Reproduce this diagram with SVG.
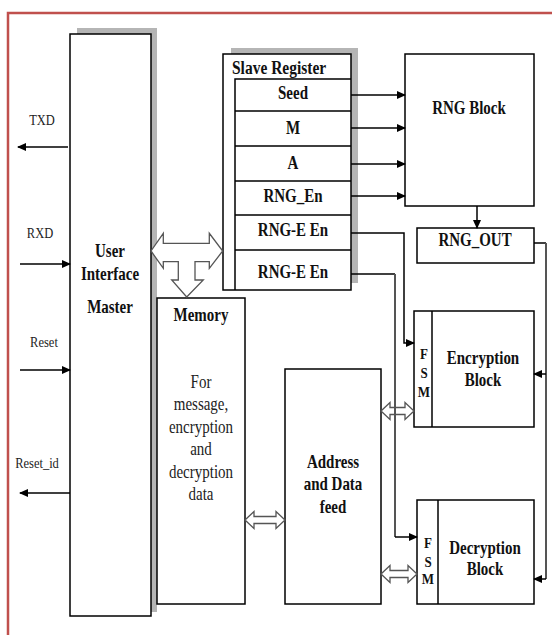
<svg xmlns="http://www.w3.org/2000/svg" width="552" height="635" viewBox="0 0 552 635">
<defs>
<marker id="ah" markerUnits="userSpaceOnUse" markerWidth="9" markerHeight="8" refX="8" refY="4" orient="auto">
<path d="M0,0 L9,4 L0,8 Z" fill="#000"/>
</marker>
</defs>
<style>
.box{fill:#fff;stroke:#000;stroke-width:1.5}
.sh{fill:#b5b5b5;stroke:none}
.ln{fill:none;stroke:#000;stroke-width:1.5}
.gl{fill:none;stroke:#555;stroke-width:2}
.ba{fill:#fff;stroke:#555;stroke-width:1.3;stroke-linejoin:miter}
.b{font-family:"Liberation Serif","Times New Roman",serif;font-weight:bold;font-size:15px;text-anchor:middle;fill:#111}
.r{font-family:"Liberation Serif","Times New Roman",serif;font-size:15px;text-anchor:middle;fill:#222}
.p{font-family:"Liberation Serif","Times New Roman",serif;font-size:12.5px;text-anchor:middle;fill:#222}
.f{font-family:"Liberation Serif","Times New Roman",serif;font-weight:bold;font-size:13px;text-anchor:middle;fill:#111}
</style>
<rect width="552" height="635" fill="#fff"/>
<rect x="8" y="13" width="560" height="640" fill="none" stroke="#c0504d" stroke-width="2.5"/>

<g id="user-interface-master">
<rect class="sh" x="77" y="28" width="80" height="584"/>
<rect class="box" x="70" y="34" width="81" height="582"/>
<text class="b" transform="translate(110,257) scale(1,1.2)">User</text>
<text class="b" transform="translate(110,280) scale(1,1.2)">Interface</text>
<text class="b" transform="translate(110,313) scale(1,1.2)">Master</text>
</g>

<g id="slave-register">
<rect class="sh" x="231" y="48" width="127" height="235"/>
<rect class="box" x="223" y="54" width="128" height="236"/>
<path class="ln" d="M235,290 V79 H351 M235,111 H351 M235,146 H351 M235,181 H351 M235,215 H351 M235,250 H351"/>
<text class="b" transform="translate(232,74) scale(1,1.2)" style="text-anchor:start;font-size:15.5px">Slave Register</text>
<text class="b" transform="translate(293,99) scale(1,1.2)">Seed</text>
<text class="b" transform="translate(293,134) scale(1,1.2)">M</text>
<text class="b" transform="translate(293,169) scale(1,1.2)">A</text>
<text class="b" transform="translate(293,202) scale(1,1.2)">RNG_En</text>
<text class="b" transform="translate(293,236) scale(1,1.2)">RNG-E En</text>
<text class="b" transform="translate(293,278) scale(1,1.2)">RNG-E En</text>
</g>

<g id="rng-block">
<rect class="box" x="405" y="54" width="129" height="152"/>
<text class="b" transform="translate(469,114) scale(1,1.2)">RNG Block</text>
</g>

<g id="rng-out">
<rect class="box" x="417" y="228" width="117" height="35"/>
<text class="b" transform="translate(475,246) scale(1,1.2)">RNG_OUT</text>
</g>

<g id="memory">
<rect class="box" x="157" y="298" width="88" height="306"/>
<text class="b" transform="translate(201,321) scale(1,1.2)">Memory</text>
<text class="r" transform="translate(201,388) scale(1,1.2)">For</text>
<text class="r" transform="translate(201,410) scale(1,1.2)">message,</text>
<text class="r" transform="translate(201,433) scale(1,1.2)">encryption</text>
<text class="r" transform="translate(201,455) scale(1,1.2)">and</text>
<text class="r" transform="translate(201,478) scale(1,1.2)">decryption</text>
<text class="r" transform="translate(201,500) scale(1,1.2)">data</text>
</g>

<g id="address-data-feed">
<rect class="box" x="285" y="369" width="96" height="235"/>
<text class="b" transform="translate(333,468) scale(1,1.2)">Address</text>
<text class="b" transform="translate(333,490) scale(1,1.2)">and Data</text>
<text class="b" transform="translate(333,513) scale(1,1.2)">feed</text>
</g>

<g id="encryption-block">
<rect class="box" x="414" y="311" width="120" height="116"/>
<path class="ln" d="M432,311 V427"/>
<text class="f" transform="translate(424,359) scale(1,1.2)">F</text>
<text class="f" transform="translate(424,378) scale(1,1.2)">S</text>
<text class="f" transform="translate(424,397) scale(1,1.2)">M</text>
<text class="b" transform="translate(483,364) scale(1,1.2)">Encryption</text>
<text class="b" transform="translate(483,386) scale(1,1.2)">Block</text>
</g>

<g id="decryption-block">
<rect class="box" x="417" y="500" width="117" height="104"/>
<path class="ln" d="M438,500 V604"/>
<text class="f" transform="translate(428,548) scale(1,1.2)">F</text>
<text class="f" transform="translate(428,567) scale(1,1.2)">S</text>
<text class="f" transform="translate(428,584) scale(1,1.2)">M</text>
<text class="b" transform="translate(485,554) scale(1,1.2)">Decryption</text>
<text class="b" transform="translate(485,575) scale(1,1.2)">Block</text>
</g>

<g id="pins">
<text class="p" transform="translate(42,125) scale(1,1.2)">TXD</text>
<text class="p" transform="translate(40,238) scale(1,1.2)">RXD</text>
<text class="p" transform="translate(44,347) scale(1,1.2)">Reset</text>
<text class="p" transform="translate(37,468) scale(1,1.2)">Reset_id</text>
</g>

<g id="connectors">
<path class="ba" d="M151,251 L163.3,233.3 L163.3,243.3 L209.3,243.3 L209.3,233.3 L222.7,251 L209.3,268.3 L209.3,261.7 L195,261.7 L195,280 L203.3,280 L186.7,297 L171.7,280 L178.3,280 L178.3,261.7 L163.3,261.7 L163.3,268.3 Z"/>
<path class="ba" d="M381,411 L390,402.5 L390,407.5 L405,407.5 L405,402.5 L414,411 L405,419.5 L405,414.5 L390,414.5 L390,419.5 Z"/>
<path class="ba" d="M381,574 L390,565.5 L390,570.5 L408,570.5 L408,565.5 L417,574 L408,582.5 L408,577.5 L390,577.5 L390,582.5 Z"/>
<path class="ba" d="M245,520 L254,511.5 L254,516.5 L276,516.5 L276,511.5 L285,520 L276,528.5 L276,523.5 L254,523.5 L254,528.5 Z"/>

<path class="ln" d="M68,147 H18" marker-end="url(#ah)"/>
<path class="ln" d="M20,264 H70" marker-end="url(#ah)"/>
<path class="ln" d="M20,370 H70" marker-end="url(#ah)"/>
<path class="ln" d="M70,493 H20" marker-end="url(#ah)"/>

<path class="ln" d="M351,95 H405" marker-end="url(#ah)"/>
<path class="ln" d="M351,128 H405" marker-end="url(#ah)"/>
<path class="ln" d="M351,164 H405" marker-end="url(#ah)"/>
<path class="ln" d="M351,196 H405" marker-end="url(#ah)"/>
<path class="ln" d="M477,206 V228" marker-end="url(#ah)"/>

<path class="ln" d="M351,233 H404 V343 H414" marker-end="url(#ah)"/>
<path class="ln" d="M351,274 H395"/>
<path class="gl" d="M395,274 V537"/>
<path class="ln" d="M395,537 H417" marker-end="url(#ah)"/>
<path class="ln" d="M534,243 H546"/>
<path class="gl" d="M546,243 V579"/>
<path class="ln" d="M546,374 H534" marker-end="url(#ah)"/>
<path class="ln" d="M546,579 H534" marker-end="url(#ah)"/>
</g>
</svg>
